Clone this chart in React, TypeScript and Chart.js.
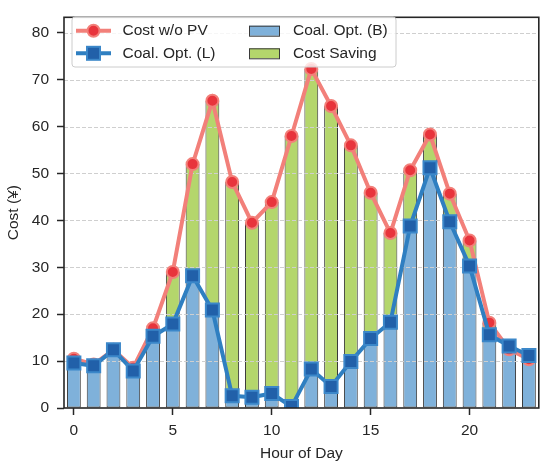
import { useEffect, useRef } from 'react';
import { Chart, registerables } from 'chart.js';

Chart.register(...registerables);

// ---- data ----
const hours = [0, 1, 2, 3, 4, 5, 6, 7, 8, 9, 10, 11, 12, 13, 14, 15, 16, 17, 18, 19, 20, 21, 22, 23];
const costWithoutPV = [10.5, 9.3, 12.4, 8.6, 17.0, 29.0, 52.0, 65.5, 48.2, 39.5, 43.9, 58.0, 72.3, 64.4, 56.0, 45.9, 37.3, 50.7, 58.3, 45.7, 35.7, 18.2, 12.5, 10.4];
const coalOptL = [9.6, 9.0, 12.4, 7.9, 15.3, 17.9, 28.2, 20.9, 2.6, 2.3, 3.1, 0.3, 8.3, 4.6, 9.9, 14.8, 18.3, 38.8, 51.2, 39.7, 30.3, 15.6, 13.2, 11.2];
const coalOptB = [9.6, 9.0, 12.4, 7.9, 15.3, 17.9, 28.2, 20.9, 2.6, 2.3, 3.1, 0.3, 8.3, 4.6, 9.9, 14.8, 18.3, 38.8, 51.2, 39.7, 30.3, 15.6, 13.2, 11.2];
const xTickValues = [0, 5, 10, 15, 20];
const yTickValues = [0, 10, 20, 30, 40, 50, 60, 70, 80];
const seriesLabels = ['Cost w/o PV', 'Coal. Opt. (L)', 'Coal. Opt. (B)', 'Cost Saving'];

// ---- styles ----
const FONT = '"Liberation Sans", Arial, sans-serif';
const FS = 15.5;
const TEXT = '#262626';
const RED_LINE = '#f2807a';
const RED_FILL = '#e8343c';
const BLUE_LINE = '#2f7fc1';
const BLUE_FILL = '#2160a9';
const BLUE_EDGE = '#3b87c9';
const BAR_BLUE = '#7fb1da';
const BAR_GREEN = '#b4d66c';
const BAR_EDGE = '#3a3a3a';

const decorPlugin = {
  id: 'decor',
  beforeDatasetsDraw(chart: any) {
    chart.$gridDone = false;
  },
  beforeDatasetDraw(chart: any, args: any) {
    if (chart.$gridDone || args.meta.type !== 'line') return;
    chart.$gridDone = true;
    const { ctx, chartArea: ca } = chart;
    const y = chart.scales.y;
    ctx.save();
    ctx.strokeStyle = '#cfcfcf';
    ctx.lineWidth = 1;
    ctx.setLineDash([4, 2]);
    for (const v of yTickValues) {
      if (v === 0) continue;
      const py = Math.round(y.getPixelForValue(v)) + 0.5;
      ctx.beginPath();
      ctx.moveTo(ca.left, py);
      ctx.lineTo(ca.right, py);
      ctx.stroke();
    }
    ctx.restore();
  },
  afterDraw(chart: any) {
    const { ctx, chartArea: ca } = chart;
    ctx.save();
    // spines
    ctx.strokeStyle = TEXT;
    ctx.lineWidth = 1.6;
    ctx.strokeRect(ca.left, ca.top, ca.right - ca.left, ca.bottom - ca.top);

    // legend
    const bx = 72, by = 17, bw = 324, bh = 50;
    ctx.beginPath();
    ctx.roundRect(bx, by, bw, bh, 3);
    ctx.fillStyle = 'rgba(255,255,255,0.8)';
    ctx.fill();
    ctx.strokeStyle = '#cccccc';
    ctx.lineWidth = 1;
    ctx.stroke();

    const rows = [30.7, 53.3];
    // red line handle
    ctx.lineCap = 'butt';
    ctx.strokeStyle = RED_LINE;
    ctx.lineWidth = 4;
    ctx.beginPath();
    ctx.moveTo(76, rows[0]);
    ctx.lineTo(111, rows[0]);
    ctx.stroke();
    ctx.beginPath();
    ctx.arc(93.5, rows[0], 6, 0, Math.PI * 2);
    ctx.fillStyle = RED_FILL;
    ctx.fill();
    ctx.lineWidth = 2;
    ctx.strokeStyle = RED_LINE;
    ctx.stroke();
    // blue line handle
    ctx.strokeStyle = BLUE_LINE;
    ctx.lineWidth = 4;
    ctx.beginPath();
    ctx.moveTo(76, rows[1]);
    ctx.lineTo(111, rows[1]);
    ctx.stroke();
    ctx.fillStyle = BLUE_FILL;
    ctx.fillRect(93.5 - 6.5, rows[1] - 6.5, 13, 13);
    ctx.lineWidth = 2;
    ctx.strokeStyle = BLUE_EDGE;
    ctx.strokeRect(93.5 - 6.5, rows[1] - 6.5, 13, 13);
    // patches
    const patch = (y: number, color: string) => {
      ctx.fillStyle = color;
      ctx.fillRect(249, y - 5, 31, 10);
      ctx.strokeStyle = BAR_EDGE;
      ctx.lineWidth = 1;
      ctx.strokeRect(249.5, y - 5 + 0.5, 30, 10);
    };
    patch(rows[0], BAR_BLUE);
    patch(rows[1], BAR_GREEN);
    // texts
    ctx.fillStyle = TEXT;
    ctx.font = `${FS}px ${FONT}`;
    ctx.textBaseline = 'middle';
    ctx.textAlign = 'left';
    ctx.fillText(seriesLabels[0], 122.5, rows[0]);
    ctx.fillText(seriesLabels[1], 122.5, rows[1]);
    ctx.fillText(seriesLabels[2], 293, rows[0]);
    ctx.fillText(seriesLabels[3], 293, rows[1]);
    ctx.restore();
  },
};

export default function App() {
  const ref = useRef<HTMLCanvasElement | null>(null);

  useEffect(() => {
    document.body.style.margin = '0';
    const canvas = ref.current;
    if (!canvas) return;

    const savingData = hours.map((h, i) => ({
      x: h,
      y: costWithoutPV[i] > coalOptB[i] ? [coalOptB[i], costWithoutPV[i]] : null,
    }));

    const chart = new Chart(canvas, {
      type: 'bar',
      data: {
        datasets: [
          {
            type: 'line',
            label: seriesLabels[0],
            data: hours.map((h, i) => ({ x: h, y: costWithoutPV[i] })),
            borderColor: RED_LINE,
            borderWidth: 4,
            pointStyle: 'circle',
            pointRadius: 6,
            pointBackgroundColor: RED_FILL,
            pointBorderColor: RED_LINE,
            pointBorderWidth: 2,
            tension: 0,
            order: 1,
          } as any,
          {
            type: 'line',
            label: seriesLabels[1],
            data: hours.map((h, i) => ({ x: h, y: coalOptL[i] })),
            borderColor: BLUE_LINE,
            borderWidth: 4,
            pointStyle: 'rect',
            pointRadius: 9.2,
            pointBackgroundColor: BLUE_FILL,
            pointBorderColor: BLUE_EDGE,
            pointBorderWidth: 2,
            tension: 0,
            order: 0,
          } as any,
          {
            type: 'bar',
            label: seriesLabels[2],
            data: hours.map((h, i) => ({ x: h, y: coalOptB[i] })),
            backgroundColor: BAR_BLUE,
            borderColor: BAR_EDGE,
            borderWidth: 1,
            borderSkipped: false,
            grouped: false,
            barPercentage: 0.7,
            categoryPercentage: 1,
            order: 3,
          } as any,
          {
            type: 'bar',
            label: seriesLabels[3],
            data: savingData,
            backgroundColor: BAR_GREEN,
            borderColor: BAR_EDGE,
            borderWidth: 1,
            borderSkipped: false,
            grouped: false,
            barPercentage: 0.7,
            categoryPercentage: 1,
            order: 2,
          } as any,
        ],
      },
      options: {
        responsive: false,
        animation: false,
        events: [],
        layout: { padding: { left: 0, right: 8, top: 10, bottom: 0 } },
        plugins: {
          legend: { display: false },
          tooltip: { enabled: false },
        },
        scales: {
          x: {
            type: 'linear',
            min: -0.5,
            max: 23.5,
            offset: false,
            afterBuildTicks: (scale: any) => {
              scale.ticks = xTickValues.map((v) => ({ value: v }));
            },
            afterFit: (scale: any) => {
              scale.height = 61;
            },
            grid: {
              drawOnChartArea: false,
              drawTicks: true,
              tickLength: 7,
              tickColor: TEXT,
              tickWidth: 1.5,
              offset: false,
            },
            border: { display: false },
            ticks: {
              color: TEXT,
              font: { family: FONT, size: FS },
              padding: 6,
              maxRotation: 0,
              autoSkip: false,
              callback: (v: any) => String(v),
            },
            title: {
              display: true,
              text: 'Hour of Day',
              color: TEXT,
              font: { family: FONT, size: FS },
              padding: { top: 0, bottom: 6 },
            },
          },
          y: {
            type: 'linear',
            min: 0,
            max: 83.3,
            afterBuildTicks: (scale: any) => {
              scale.ticks = yTickValues.map((v) => ({ value: v }));
            },
            afterFit: (scale: any) => {
              scale.width = 64;
            },
            grid: {
              drawOnChartArea: false,
              drawTicks: true,
              tickLength: 7,
              tickColor: TEXT,
              tickWidth: 1.5,
            },
            border: { display: false },
            ticks: {
              color: TEXT,
              font: { family: FONT, size: FS },
              padding: 8,
              autoSkip: false,
              callback: (v: any) => String(v),
            },
            title: {
              display: true,
              text: 'Cost (¥)',
              color: TEXT,
              font: { family: FONT, size: FS },
              padding: { top: 4, bottom: 0 },
            },
          },
        },
      } as any,
      plugins: [decorPlugin],
    });

    return () => chart.destroy();
  }, []);

  return (
    <div style={{ position: 'absolute', left: 0, top: 0, width: 550, height: 469, background: '#fff' }}>
      <canvas ref={ref} width={550} height={469} style={{ display: 'block' }} />
    </div>
  );
}
